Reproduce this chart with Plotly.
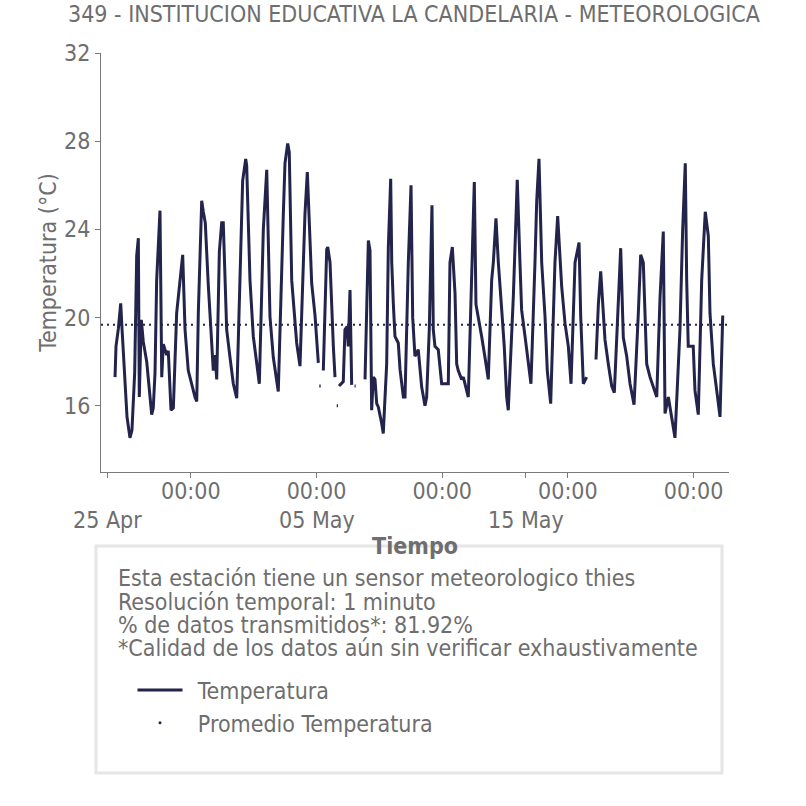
import pandas as pd
import plotly.graph_objects as go

# ---------------- data ----------------
BASE = "2023-04-25 00:00"
# hours since BASE and temperature (°C); each list is one continuous stretch of data
h_seg1 = [9.2, 10.3, 13.0, 15.7, 17.2, 20.6, 22.9, 26.3, 28.6, 31.7, 34.0, 35.9, 37.0, 39.3, 41.6, 45.5,
          48.1, 51.2, 53.0, 55.0, 56.9, 58.8, 60.7, 62.7, 64.5, 68.4, 70.2, 73.3, 76.0, 79.8, 83.6, 86.7,
          89.4, 93.1, 100.8, 102.8, 104.6, 106.5, 108.5, 110.3, 112.6, 116.0, 119.9, 121.8, 123.7, 125.7,
          128.7, 131.4, 133.2, 137.1, 140.9, 144.7, 148.6, 152.4, 155.4, 158.9, 160.0, 163.8, 167.6, 174.5,
          179.1, 183.0, 186.7, 190.5, 196.2, 202.0, 203.9, 207.0, 208.8, 211.6, 217.3, 221.1, 226.8, 229.5,
          234.5, 238.3, 242.1]
t_seg1 = [17.3, 18.7, 19.5, 20.65, 19.5, 17.0, 15.5, 14.55, 14.9, 17.5, 22.8, 23.6, 16.4, 19.9, 18.9, 18.0,
          16.8, 15.6, 15.9, 17.5, 21.7, 23.5, 24.85, 17.3, 18.8, 18.3, 18.5, 15.8, 15.9, 20.2, 21.7, 22.85,
          19.45, 17.6, 16.4, 16.2, 20.2, 23.0, 25.3, 24.8, 24.3, 21.5, 18.7, 17.6, 18.3, 17.2,
          23.0, 24.3, 24.3, 19.45, 18.2, 17.0, 16.35, 21.7, 26.2, 27.2, 26.9, 21.7, 19.15, 17.0,
          24.0, 26.7, 20.05, 18.2, 16.65, 24.7, 27.0, 27.9, 27.5, 21.7, 18.85, 17.8, 24.7, 26.6,
          21.55, 20.1, 17.95]
h_seg2 = [243.2, 244.8]
t_seg2 = [16.9, 16.9]
h_seg3 = [247.8, 251.7, 252.9, 255.5, 259.3, 261.2]
t_seg3 = [17.6, 23.1, 23.2, 22.5, 18.7, 17.3]
h_seg4 = [263.2, 264.6]
t_seg4 = [16.0, 16.0]
h_seg5 = [265.8, 270.7, 272.6, 275.0, 276.4, 278.4, 280.3]
t_seg5 = [16.9, 17.1, 19.45, 19.6, 18.7, 21.25, 16.95]
h_seg6 = [283.6, 284.9]
t_seg6 = [16.9, 16.9]
h_seg7 = [295.6, 299.4, 301.3, 303.2, 305.1, 307.0, 309.0, 310.8, 314.7, 316.5, 320.4, 322.3, 325.0, 326.2,
          328.0, 329.9, 333.7, 335.7, 339.5, 341.4, 345.2, 348.3, 350.2, 352.8, 356.6, 360.5, 364.3, 366.2,
          369.2, 370.8, 372.3, 373.8, 375.7, 379.5, 383.4, 391.0, 392.9, 395.6, 398.7, 400.6, 402.4, 406.3,
          408.2, 413.9, 417.8, 420.8, 422.7, 425.4, 429.2, 433.0, 436.8, 440.7, 442.6, 445.6, 448.3, 452.2,
          455.1, 457.9, 459.7, 465.5, 470.0, 473.1, 475.0, 478.9, 482.7, 485.7, 490.3, 492.3, 494.9, 498.0,
          501.8, 504.4, 508.3, 513.2, 516.3, 520.9, 524.7, 528.5, 531.6, 536.2, 540.8, 542.7, 545.7, 549.5]
t_seg7 = [17.2, 23.5, 23.05, 15.8, 17.3, 17.2, 16.1, 15.95, 15.2, 14.75, 17.9, 23.2, 26.3, 22.5,
          20.65, 19.15, 18.85, 17.65, 16.4, 16.4, 22.5, 26.0, 20.0, 18.25, 18.55, 16.85, 16.0, 16.4,
          19.45, 23.2, 25.1, 19.45, 18.7, 18.55, 17.0, 17.0, 22.5, 23.2, 21.1, 17.9, 17.6, 17.2,
          17.3, 16.4, 21.7, 26.15, 20.6, 20.05, 19.15, 18.2, 17.2, 21.7, 22.5, 24.5, 22.5, 20.35,
          18.7, 16.4, 15.8, 20.95, 26.25, 22.5, 20.35, 19.15, 17.95, 17.0, 22.5, 25.3, 27.2, 22.5,
          20.05, 17.6, 16.1, 22.5, 24.6, 21.4, 19.75, 18.7, 17.0, 22.5, 23.4, 20.05, 17.0, 17.3]
h_seg8 = [560.2, 562.9, 565.6, 567.9, 570.5, 574.3, 578.2, 581.2, 585.8, 588.5, 591.5, 595.4, 599.2, 603.8,
          608.7, 611.4, 614.4, 618.3, 622.1, 625.9, 629.8, 633.6, 637.3, 639.3, 643.1, 650.7, 656.4, 659.5,
          662.5, 664.1, 665.9, 671.6, 673.6, 677.4, 681.3, 685.4, 688.9, 690.8, 694.6, 698.5, 702.3, 705.4]
t_seg8 = [18.1, 20.6, 22.1, 20.6, 19.0, 17.9, 16.9, 16.6, 20.95, 23.15, 19.1, 18.25, 17.0, 16.05,
          20.2, 22.85, 22.5, 17.9, 17.3, 16.9, 16.4, 20.95, 23.9, 15.65, 16.4, 14.55, 19.45, 24.0,
          27.0, 21.7, 18.7, 18.7, 16.7, 15.6, 21.7, 24.8, 23.7, 20.2, 17.9, 16.7, 15.5, 20.1]

promedio = 19.68
x_range = ["2023-04-24 17:07", "2023-05-24 16:35"]
y_range = [13, 32]
y_ticks = [16, 20, 24, 28, 32]
x_tick_dates = ["2023-04-25", "2023-04-29", "2023-05-05", "2023-05-11", "2023-05-15", "2023-05-17", "2023-05-23"]
x_tick_text = ["", "00:00", "00:00", "00:00", "", "00:00", "00:00"]
date_label_dates = ["2023-04-25", "2023-05-05", "2023-05-15"]
date_label_text = ["25 Apr", "05 May", "15 May"]

titulo = "349 - INSTITUCION EDUCATIVA LA CANDELARIA - METEOROLOGICA"
info_lines = ["Esta estación tiene un sensor meteorologico thies",
              "Resolución temporal: 1 minuto",
              "% de datos transmitidos*: 81.92%",
              "*Calidad de los datos aún sin verificar exhaustivamente"]

# ---------------- build series ----------------
segs_h = [h_seg1, h_seg2, h_seg3, h_seg4, h_seg5, h_seg6, h_seg7, h_seg8]
segs_t = [t_seg1, t_seg2, t_seg3, t_seg4, t_seg5, t_seg6, t_seg7, t_seg8]
base = pd.Timestamp(BASE)
xs, ys = [], []
for hh, tt in zip(segs_h, segs_t):
    assert len(hh) == len(tt)
    xs += [base + pd.Timedelta(hours=v) for v in hh] + [None]
    ys += list(tt) + [None]

FONT = "DejaVu Sans Condensed, DejaVu Sans, sans-serif"
GRAY = "#6e6e6e"
LINE = "#23234c"
AX = "#7a7a7a"
FS = 23

W = H = 806
PL, PR, PT, PB = 101, 729, 53, 472        # plot area in pixels

def px(pix):
    return (pix - PL) / (PR - PL)

def py(pix):
    return (PB - pix) / (PB - PT)

fig = go.Figure()
fig.add_trace(go.Scatter(x=xs, y=ys, mode="lines", name="\u2002Temperatura",
                         line=dict(color=LINE, width=3), connectgaps=False))
fig.add_trace(go.Scatter(x=[pd.Timestamp(x_range[0]), pd.Timestamp(x_range[1])], y=[promedio, promedio],
                         mode="lines", name="Promedio Temperatura", showlegend=False,
                         line=dict(color=LINE, width=2, dash="2px,4px")))
# legend entry for the mean (drawn as a single dot, like the reference)
fig.add_trace(go.Scatter(x=[None], y=[None], mode="markers", name="\u2002Promedio Temperatura",
                         marker=dict(color=LINE, size=3)))

fig.update_layout(
    width=W, height=H,
    margin=dict(l=PL, r=W - PR, t=PT, b=H - PB, autoexpand=False),
    paper_bgcolor="white", plot_bgcolor="white",
    font=dict(family=FONT, size=FS, color=GRAY),
    title=dict(text=titulo, x=414 / W, xanchor="center", y=1 - 14 / H, yanchor="middle",
               font=dict(family=FONT, size=FS, color=GRAY)),
    showlegend=True,
    legend=dict(x=px(132.5), y=py(668.5), xanchor="left", yanchor="top",
                bgcolor="rgba(0,0,0,0)", font=dict(family=FONT, size=FS, color=GRAY),
                itemwidth=45, tracegroupgap=0),
    xaxis=dict(type="date", range=x_range, showline=True, linecolor=AX, linewidth=1,
               ticks="outside", ticklen=5, tickcolor=AX, showgrid=False, zeroline=False,
               tickvals=x_tick_dates, ticktext=x_tick_text, ticklabelstandoff=-7,
               tickfont=dict(family=FONT, size=FS, color=GRAY),
               title=dict(text="<b>Tiempo</b>", standoff=35,
                          font=dict(family=FONT, size=FS, color=GRAY))),
    yaxis=dict(range=y_range, showline=True, linecolor=AX, linewidth=1, ticks="outside",
               ticklen=5, tickcolor=AX, showgrid=False, zeroline=False, tickvals=y_ticks,
               tickfont=dict(family=FONT, size=FS, color=GRAY),
               title=dict(text="Temperatura (°C)", standoff=1,
                          font=dict(family=FONT, size=FS, color=GRAY))),
)

for d, txt in zip(date_label_dates, date_label_text):
    fig.add_annotation(x=d, xref="x", y=py(520), yref="paper", text=txt, showarrow=False,
                       xanchor="center", yanchor="middle", font=dict(family=FONT, size=FS, color=GRAY))

# info box
fig.add_shape(type="rect", xref="paper", yref="paper",
              x0=px(96), x1=px(722), y0=py(773), y1=py(546),
              line=dict(color="#e6e6e6", width=3), fillcolor="rgba(0,0,0,0)", layer="above")
for line, yy in zip(info_lines, [578, 602, 625, 648]):
    fig.add_annotation(x=px(116), xref="paper", y=py(yy), yref="paper", text=line,
                       showarrow=False, xanchor="left", yanchor="middle",
                       font=dict(family=FONT, size=FS, color=GRAY))

fig.write_html("out.html", config={"displayModeBar": False},
               post_script="document.body.style.margin='0';")
